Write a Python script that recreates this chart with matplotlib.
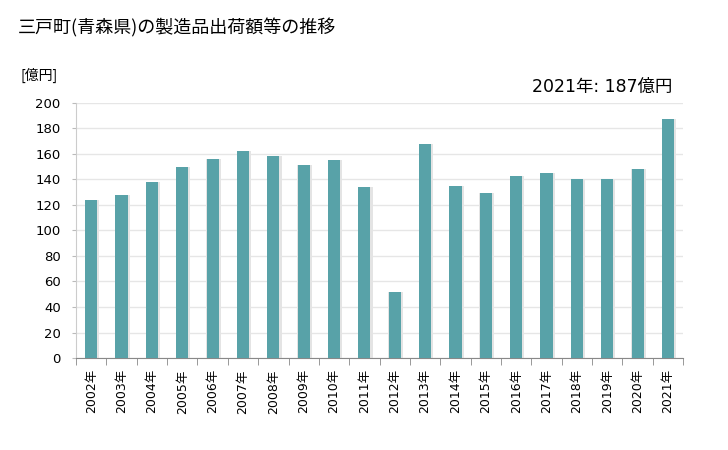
import matplotlib
matplotlib.use('Agg')
import matplotlib.pyplot as plt
import numpy as np

plt.rcParams['font.family'] = ['DejaVu Sans', 'Noto Sans CJK JP']

years = ['2002年', '2003年', '2004年', '2005年', '2006年', '2007年', '2008年',
         '2009年', '2010年', '2011年', '2012年', '2013年', '2014年', '2015年',
         '2016年', '2017年', '2018年', '2019年', '2020年', '2021年']
values = [124, 128, 138, 150, 156, 162, 158, 151, 155, 134, 52, 168, 135, 129,
          143, 145, 140, 140, 148, 187]
yticks = [0, 20, 40, 60, 80, 100, 120, 140, 160, 180, 200]

fig = plt.figure(figsize=(7.28, 4.5), dpi=100)
ax = fig.add_axes([0.1044, 0.2044, 0.834, 0.567])

x = np.arange(len(years))
# shadow behind bars
ax.bar(x + 0.03, values, width=0.48, color='#e4e4e4', zorder=2)
ax.bar(x, values, width=0.4, color='#58a2a8', zorder=3)

ax.set_xlim(-0.5, len(years) - 0.5)
ax.set_ylim(0, 200)
ax.set_yticks(yticks)
ax.set_yticklabels([str(v) for v in yticks], fontsize=9.5)
ax.grid(axis='y', color='#e6e6e6', linewidth=1, zorder=0)

ax.set_xticks(x)
ax.set_xticklabels(years, rotation=90, fontsize=9)
ax.tick_params(axis='x', length=0, pad=8)
ax.set_xticks(np.arange(-0.5, len(years), 1), minor=True)
ax.tick_params(axis='x', which='minor', length=5, color='#888888')
ax.tick_params(axis='y', length=3, color='#bbbbbb', pad=8)

for side in ['top', 'right']:
    ax.spines[side].set_visible(False)
ax.spines['left'].set_color('#cccccc')
ax.spines['bottom'].set_color('#888888')

fig.text(18 / 728, 1 - 28 / 450, '三戸町(青森県)の製造品出荷額等の推移', fontsize=13, va='center',
         family=['Noto Sans CJK JP', 'DejaVu Sans'])
fig.text(20 / 728, 1 - 75 / 450, '[億円]', fontsize=10, va='center',
         family=['Noto Sans CJK JP', 'DejaVu Sans'])
fig.text(672 / 728, 1 - 87 / 450, '2021年: 187億円', fontsize=12.5, va='center', ha='right')

fig.savefig('out.png', dpi=100)
